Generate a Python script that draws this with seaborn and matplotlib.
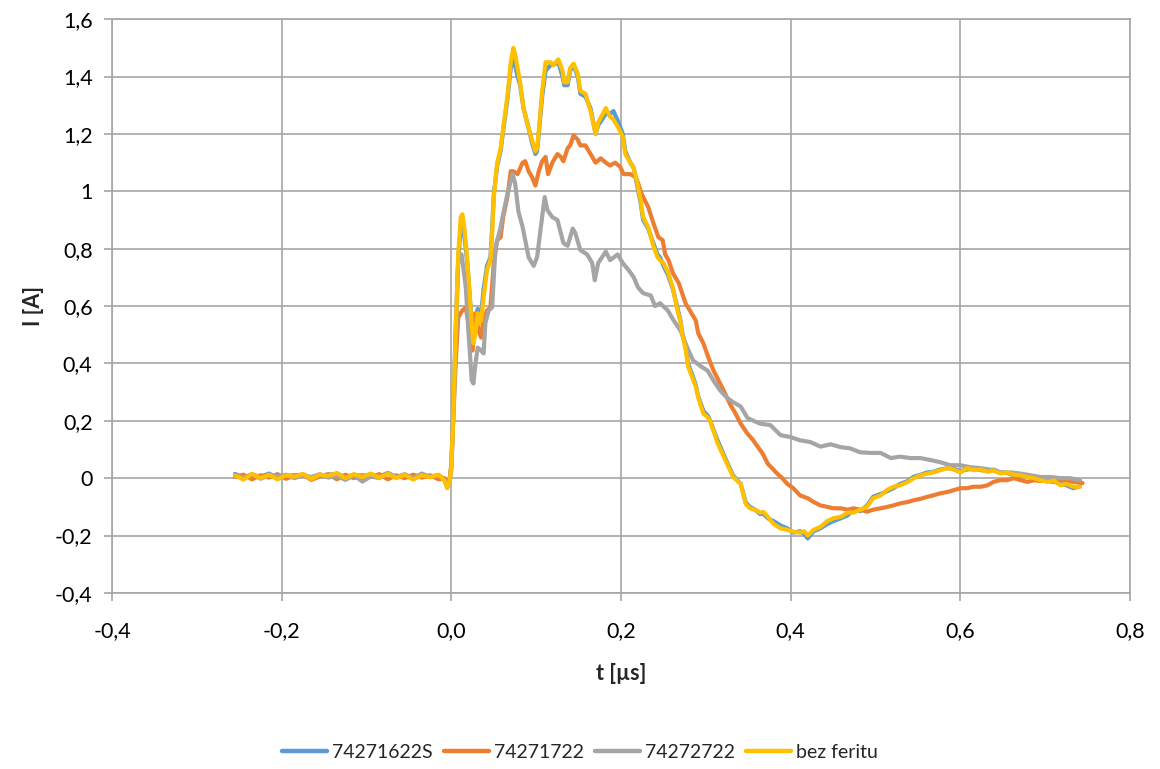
import matplotlib
matplotlib.use("Agg")
import matplotlib.pyplot as plt
import seaborn as sns
import pandas as pd

# ---- measured current traces: time [us] and current [A] ----
baseline_t = [-0.255, -0.245, -0.235, -0.225, -0.215, -0.205, -0.195, -0.185, -0.175, -0.165,
              -0.155, -0.145, -0.135, -0.125, -0.115, -0.105, -0.095, -0.085, -0.075, -0.065,
              -0.055, -0.045, -0.035, -0.025, -0.015, -0.008, -0.005, -0.002]

t_bez = baseline_t + [
    0.000, 0.002, 0.005, 0.008, 0.011, 0.013, 0.015, 0.017, 0.019, 0.022, 0.025, 0.026, 0.028,
    0.031, 0.033, 0.035, 0.038, 0.042, 0.046, 0.048, 0.050, 0.054, 0.058, 0.061, 0.066, 0.070,
    0.073, 0.075, 0.078, 0.081, 0.085, 0.091, 0.095, 0.099, 0.101, 0.103, 0.107, 0.111, 0.117,
    0.120, 0.126, 0.131, 0.133, 0.137, 0.140, 0.144, 0.149, 0.152, 0.158, 0.164, 0.170, 0.173,
    0.182, 0.187, 0.191, 0.197, 0.202, 0.205, 0.211, 0.215, 0.219, 0.223, 0.226, 0.232, 0.238,
    0.243, 0.246, 0.250, 0.255, 0.261, 0.266, 0.270, 0.272, 0.276, 0.279, 0.284, 0.288, 0.291,
    0.297, 0.303, 0.305, 0.314, 0.325, 0.332, 0.341, 0.347, 0.352, 0.358, 0.364, 0.368, 0.373,
    0.380, 0.388, 0.396, 0.403, 0.411, 0.416, 0.420, 0.427, 0.435, 0.443, 0.450, 0.459, 0.467,
    0.474, 0.482, 0.490, 0.497, 0.506, 0.514, 0.521, 0.529, 0.538, 0.545, 0.553, 0.561, 0.568,
    0.576, 0.585, 0.592, 0.600, 0.608, 0.615, 0.624, 0.632, 0.639, 0.647, 0.655, 0.663, 0.671,
    0.679, 0.687, 0.694, 0.703, 0.710, 0.718, 0.725, 0.733, 0.741]
i_bez = [0.010, -0.005, 0.015, 0.000, 0.012, -0.004, 0.010, 0.005, 0.015, -0.003,
         0.012, 0.008, 0.018, 0.000, 0.014, 0.004, 0.016, 0.002, 0.015, 0.000,
         0.012, -0.005, 0.010, 0.003, 0.012, -0.010, -0.035, -0.010] + [
    0.040, 0.200, 0.500, 0.780, 0.910, 0.920, 0.880, 0.820, 0.750, 0.620, 0.500, 0.470, 0.500,
    0.575, 0.540, 0.550, 0.630, 0.725, 0.760, 0.850, 0.980, 1.100, 1.150, 1.220, 1.330, 1.450,
    1.500, 1.480, 1.430, 1.380, 1.290, 1.220, 1.180, 1.140, 1.150, 1.210, 1.350, 1.450, 1.450,
    1.440, 1.460, 1.420, 1.380, 1.380, 1.430, 1.445, 1.410, 1.350, 1.340, 1.280, 1.200, 1.240,
    1.290, 1.260, 1.250, 1.220, 1.190, 1.130, 1.100, 1.080, 1.030, 0.970, 0.910, 0.875, 0.810,
    0.770, 0.760, 0.750, 0.720, 0.665, 0.590, 0.545, 0.505, 0.450, 0.390, 0.350, 0.320, 0.280,
    0.225, 0.210, 0.200, 0.120, 0.050, 0.005, -0.020, -0.090, -0.105, -0.110, -0.120, -0.118, -0.135,
    -0.160, -0.175, -0.180, -0.187, -0.190, -0.185, -0.200, -0.180, -0.170, -0.150, -0.140, -0.135, -0.120,
    -0.120, -0.110, -0.100, -0.070, -0.060, -0.040, -0.030, -0.025, -0.013, 0.000, 0.010, 0.016, 0.020,
    0.027, 0.035, 0.030, 0.020, 0.035, 0.028, 0.030, 0.022, 0.027, 0.016, 0.020, 0.012, 0.010,
    0.004, 0.000, -0.007, -0.013, -0.008, -0.025, -0.020, -0.030, -0.030]

t_16 = baseline_t + [
    0.000, 0.002, 0.005, 0.008, 0.011, 0.013, 0.015, 0.017, 0.019, 0.022, 0.025, 0.026, 0.028,
    0.031, 0.033, 0.035, 0.038, 0.042, 0.046, 0.048, 0.050, 0.054, 0.058, 0.061, 0.066, 0.070,
    0.073, 0.075, 0.078, 0.081, 0.085, 0.091, 0.095, 0.099, 0.101, 0.103, 0.107, 0.111, 0.117,
    0.120, 0.126, 0.131, 0.133, 0.137, 0.140, 0.144, 0.149, 0.152, 0.158, 0.164, 0.170, 0.173,
    0.182, 0.187, 0.191, 0.197, 0.202, 0.205, 0.211, 0.215, 0.219, 0.223, 0.226, 0.232, 0.238,
    0.243, 0.246, 0.250, 0.255, 0.261, 0.266, 0.270, 0.272, 0.276, 0.279, 0.284, 0.288, 0.291,
    0.297, 0.303, 0.305, 0.314, 0.325, 0.332, 0.341, 0.347, 0.352, 0.358, 0.364, 0.368, 0.373,
    0.380, 0.388, 0.396, 0.403, 0.411, 0.416, 0.420, 0.427, 0.435, 0.443, 0.450, 0.459, 0.467,
    0.474, 0.482, 0.490, 0.497, 0.506, 0.514, 0.521, 0.529, 0.538, 0.545, 0.553, 0.561, 0.568,
    0.576, 0.585, 0.592, 0.600, 0.608, 0.615, 0.624, 0.632, 0.639, 0.647, 0.655, 0.663, 0.671,
    0.679, 0.687, 0.694, 0.703, 0.710, 0.718, 0.725, 0.733, 0.741]
i_16 = [0.015, 0.000, 0.012, 0.005, 0.016, 0.000, 0.008, 0.010, 0.012, 0.002,
        0.010, 0.012, 0.015, 0.004, 0.012, 0.008, 0.013, 0.006, 0.018, 0.004,
        0.010, 0.002, 0.012, 0.006, 0.010, -0.005, -0.030, -0.005] + [
    0.050, 0.220, 0.520, 0.760, 0.870, 0.880, 0.850, 0.800, 0.740, 0.620, 0.510, 0.480, 0.510,
    0.590, 0.560, 0.570, 0.660, 0.740, 0.770, 0.870, 0.990, 1.090, 1.140, 1.210, 1.320, 1.430,
    1.460, 1.440, 1.400, 1.370, 1.290, 1.220, 1.170, 1.130, 1.140, 1.200, 1.330, 1.420, 1.440,
    1.440, 1.450, 1.400, 1.370, 1.370, 1.420, 1.440, 1.400, 1.340, 1.330, 1.290, 1.200, 1.230,
    1.270, 1.270, 1.280, 1.240, 1.200, 1.140, 1.100, 1.080, 1.020, 0.960, 0.900, 0.870, 0.820,
    0.780, 0.770, 0.740, 0.710, 0.660, 0.600, 0.550, 0.510, 0.460, 0.400, 0.360, 0.325, 0.285,
    0.235, 0.215, 0.200, 0.130, 0.055, 0.010, -0.020, -0.085, -0.100, -0.110, -0.125, -0.125, -0.140,
    -0.150, -0.165, -0.175, -0.190, -0.185, -0.195, -0.210, -0.185, -0.175, -0.160, -0.150, -0.140, -0.130,
    -0.110, -0.115, -0.095, -0.065, -0.055, -0.045, -0.035, -0.020, -0.010, 0.005, 0.012, 0.020, 0.022,
    0.030, 0.035, 0.032, 0.025, 0.030, 0.033, 0.028, 0.025, 0.030, 0.020, 0.018, 0.010, 0.008,
    0.006, -0.002, -0.005, -0.010, -0.012, -0.020, -0.025, -0.035, -0.028]

t_17 = baseline_t + [
    0.000, 0.005, 0.008, 0.013, 0.017, 0.020, 0.025, 0.028, 0.032, 0.035, 0.038, 0.042, 0.046,
    0.050, 0.054, 0.058, 0.061, 0.066, 0.070, 0.073, 0.078, 0.084, 0.087, 0.091, 0.095, 0.099,
    0.103, 0.107, 0.111, 0.114, 0.119, 0.125, 0.129, 0.132, 0.137, 0.140, 0.144, 0.149, 0.152,
    0.158, 0.162, 0.166, 0.170, 0.176, 0.182, 0.187, 0.193, 0.199, 0.203, 0.211, 0.217, 0.220,
    0.223, 0.226, 0.232, 0.238, 0.244, 0.249, 0.252, 0.256, 0.261, 0.264, 0.268, 0.272, 0.276,
    0.282, 0.288, 0.291, 0.297, 0.303, 0.309, 0.315, 0.321, 0.329, 0.335, 0.341, 0.349, 0.355,
    0.361, 0.367, 0.373, 0.378, 0.384, 0.390, 0.396, 0.403, 0.411, 0.420, 0.427, 0.435, 0.443,
    0.450, 0.459, 0.467, 0.474, 0.482, 0.490, 0.497, 0.506, 0.514, 0.521, 0.529, 0.538, 0.545,
    0.553, 0.561, 0.568, 0.576, 0.585, 0.592, 0.600, 0.608, 0.615, 0.624, 0.632, 0.639, 0.647,
    0.655, 0.663, 0.671, 0.679, 0.687, 0.694, 0.703, 0.710, 0.718, 0.726, 0.733, 0.744]
i_17 = [0.005, 0.012, -0.004, 0.010, 0.002, 0.014, -0.002, 0.008, 0.012, -0.006,
        0.006, 0.014, -0.004, 0.012, 0.000, 0.010, 0.004, 0.014, -0.004, 0.010,
        0.000, 0.012, 0.002, 0.010, -0.004, 0.000, -0.025, -0.005] + [
    0.050, 0.400, 0.560, 0.585, 0.595, 0.540, 0.445, 0.575, 0.515, 0.490, 0.560, 0.585, 0.595,
    0.750, 0.830, 0.840, 0.910, 0.980, 1.070, 1.070, 1.060, 1.100, 1.105, 1.070, 1.050, 1.020,
    1.070, 1.105, 1.120, 1.060, 1.100, 1.130, 1.120, 1.105, 1.150, 1.160, 1.195, 1.180, 1.160,
    1.160, 1.140, 1.120, 1.100, 1.115, 1.100, 1.090, 1.100, 1.085, 1.060, 1.060, 1.050, 1.030,
    1.000, 0.980, 0.945, 0.890, 0.840, 0.830, 0.780, 0.760, 0.715, 0.700, 0.680, 0.645, 0.610,
    0.580, 0.550, 0.505, 0.470, 0.420, 0.375, 0.340, 0.305, 0.255, 0.225, 0.190, 0.155, 0.135,
    0.110, 0.085, 0.050, 0.035, 0.016, 0.000, -0.020, -0.035, -0.060, -0.070, -0.083, -0.095, -0.100,
    -0.105, -0.105, -0.110, -0.105, -0.110, -0.117, -0.110, -0.105, -0.100, -0.095, -0.088, -0.083, -0.077,
    -0.072, -0.065, -0.060, -0.053, -0.048, -0.042, -0.035, -0.035, -0.030, -0.030, -0.025, -0.013, -0.007,
    -0.007, 0.000, -0.007, -0.013, -0.007, -0.010, -0.007, -0.013, -0.007, -0.010, -0.013, -0.017]

t_27 = baseline_t + [
    0.000, 0.002, 0.005, 0.008, 0.012, 0.017, 0.020, 0.024, 0.026, 0.028, 0.031, 0.035, 0.038,
    0.040, 0.044, 0.048, 0.052, 0.058, 0.061, 0.066, 0.072, 0.075, 0.079, 0.084, 0.087, 0.091,
    0.097, 0.101, 0.105, 0.110, 0.113, 0.119, 0.125, 0.132, 0.137, 0.143, 0.146, 0.152, 0.160,
    0.166, 0.169, 0.173, 0.182, 0.187, 0.196, 0.202, 0.209, 0.215, 0.220, 0.226, 0.235, 0.240,
    0.246, 0.255, 0.262, 0.270, 0.278, 0.285, 0.294, 0.302, 0.309, 0.317, 0.325, 0.332, 0.341,
    0.349, 0.356, 0.364, 0.376, 0.388, 0.400, 0.411, 0.423, 0.435, 0.447, 0.459, 0.470, 0.482,
    0.494, 0.506, 0.518, 0.529, 0.541, 0.553, 0.565, 0.576, 0.588, 0.600, 0.612, 0.624, 0.635,
    0.647, 0.659, 0.671, 0.683, 0.694, 0.706, 0.718, 0.729, 0.741]
i_27 = [0.008, 0.002, 0.014, -0.002, 0.010, 0.006, 0.012, 0.000, 0.010, 0.004,
        0.014, 0.002, 0.008, -0.006, 0.010, -0.012, 0.006, 0.000, 0.018, 0.004,
        0.014, 0.000, 0.016, 0.004, 0.010, -0.005, -0.030, -0.008] + [
    0.030, 0.200, 0.450, 0.750, 0.780, 0.665, 0.515, 0.340, 0.330, 0.390, 0.455, 0.445, 0.435,
    0.540, 0.585, 0.595, 0.805, 0.875, 0.920, 0.990, 1.060, 1.030, 0.930, 0.875, 0.830, 0.770,
    0.740, 0.770, 0.865, 0.980, 0.935, 0.910, 0.900, 0.820, 0.810, 0.870, 0.855, 0.795, 0.780,
    0.750, 0.690, 0.750, 0.790, 0.760, 0.780, 0.750, 0.725, 0.700, 0.665, 0.645, 0.637, 0.600,
    0.610, 0.585, 0.550, 0.515, 0.455, 0.410, 0.390, 0.375, 0.340, 0.305, 0.280, 0.265, 0.250,
    0.210, 0.200, 0.190, 0.185, 0.150, 0.143, 0.132, 0.126, 0.110, 0.118, 0.108, 0.104, 0.090,
    0.088, 0.088, 0.070, 0.075, 0.070, 0.070, 0.063, 0.056, 0.045, 0.045, 0.038, 0.035, 0.030,
    0.020, 0.020, 0.016, 0.010, 0.004, 0.004, 0.000, 0.000, -0.007]

series_names = ["74271622S", "74271722", "74272722", "bez feritu"]
series_colors = ["#5B9BD5", "#ED7D31", "#A5A5A5", "#FFC000"]

x_ticks = [-0.4, -0.2, 0.0, 0.2, 0.4, 0.6, 0.8]
x_tick_labels = ["-0,4", "-0,2", "0,0", "0,2", "0,4", "0,6", "0,8"]
y_ticks = [-0.4, -0.2, 0.0, 0.2, 0.4, 0.6, 0.8, 1.0, 1.2, 1.4, 1.6]
y_tick_labels = ["-0,4", "-0,2", "0", "0,2", "0,4", "0,6", "0,8", "1", "1,2", "1,4", "1,6"]

frames = []
for name, t, i in zip(series_names, [t_16, t_17, t_27, t_bez], [i_16, i_17, i_27, i_bez]):
    frames.append(pd.DataFrame({"t": t, "I": i, "series": name}))
df = pd.concat(frames, ignore_index=True)

sns.set_theme(style="white")
plt.rcParams["font.family"] = ["Lato", "DejaVu Sans"]

fig = plt.figure(figsize=(11.6, 7.69), dpi=100)
ax = fig.add_axes([0.0966, 0.229, 0.8776, 0.746])

grid_col = "#A6A6A6"
sns.lineplot(data=df, x="t", y="I", hue="series", hue_order=series_names,
             palette=dict(zip(series_names, series_colors)), estimator=None,
             sort=False, linewidth=3.0, ax=ax, legend=True)

ax.set_xlim(-0.4, 0.8)
ax.set_ylim(-0.4, 1.6)
ax.set_xticks(x_ticks)
ax.set_xticklabels(x_tick_labels)
ax.set_yticks(y_ticks)
ax.set_yticklabels(y_tick_labels)
ax.grid(True, color=grid_col, linewidth=1.2)
ax.set_axisbelow(True)
for side in ["top", "right", "left", "bottom"]:
    ax.spines[side].set_color(grid_col)
    ax.spines[side].set_linewidth(1.2)
ax.tick_params(axis="both", which="major", length=6, width=1.2, color=grid_col,
               labelsize=15.5, labelcolor="#000000", direction="out",
               bottom=True, left=True)
ax.tick_params(axis="x", pad=14)
ax.tick_params(axis="y", pad=8)

ax.set_xlabel("t [µs]", fontsize=15.5, fontweight="bold", labelpad=16)
ax.set_ylabel("I [A]", fontsize=15.5, fontweight="bold", labelpad=8)

handles, labels = ax.get_legend_handles_labels()
for h in handles:
    h.set_linewidth(3.2)
ax.legend(handles, labels, loc="center", bbox_to_anchor=(0.5, 0.022),
          bbox_transform=fig.transFigure, ncol=4, frameon=False, fontsize=14,
          handlelength=2.3, handletextpad=0.25, columnspacing=0.6)

fig.savefig("out.png", dpi=100)
